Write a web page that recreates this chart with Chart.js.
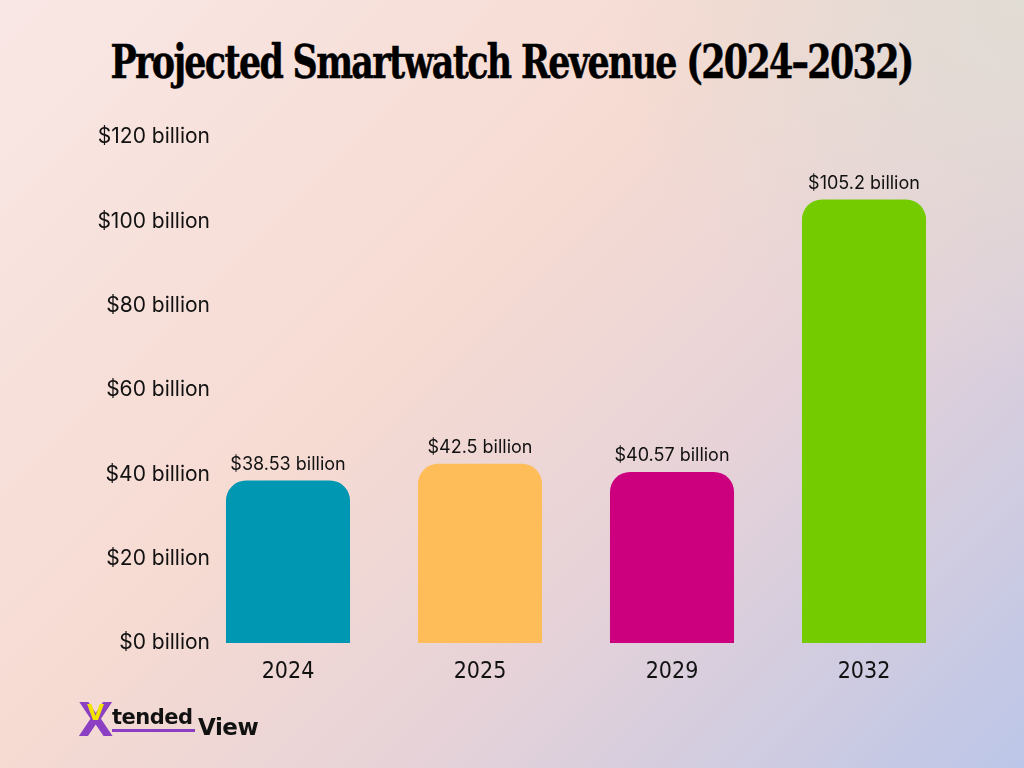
<!DOCTYPE html>
<html lang="en">
<head>
    <meta charset="UTF-8">
    <title>Projected Smartwatch Revenue (2024–2032)</title>
    <script src="https://cdn.jsdelivr.net/npm/chart.js"></script>
    <style>
        html, body { margin: 0; padding: 0; }
        body {
            width: 1024px; height: 768px; overflow: hidden; position: relative;
            background:
                radial-gradient(ellipse 420px 380px at 100% 0%, rgba(224,220,212,0.95), rgba(224,220,212,0) 100%),
                linear-gradient(135deg, #f9e7e5 0%, #f6dbd2 42%, #e6d2d8 66%, #bcc6e8 100%);
        }
        #title {
            position: absolute; left: 0; top: 34px; width: 1024px; text-align: center;
            font-family: "DejaVu Serif Condensed", "DejaVu Serif", serif; font-weight: bold;
            font-size: 47px; color: #000; letter-spacing: -2px; white-space: nowrap;
            -webkit-text-stroke: 0.5px #000;
        }
        #title span { display: inline-block; transform-origin: center; }
        canvas { position: absolute; left: 0; top: 0; }
        #logo { position: absolute; left: 78px; top: 700px; height: 44px; font-family: "DejaVu Sans", sans-serif; font-weight: bold; }
        #logo .x { position: absolute; left: 0; top: -3px; font-size: 46px; color: #8b3fc2; line-height: 46px; }
        #logo .v { position: absolute; left: 9px; top: 2px; font-size: 22px; color: #f0e400; line-height: 22px; }
        #logo .t { position: absolute; left: 34px; top: 5px; font-size: 21px; color: #111; line-height: 24px; border-bottom: 3px solid #8b3fc2; padding-right: 2px; letter-spacing: -0.5px; }
        #logo .w { position: absolute; left: 120px; top: 14px; font-size: 23px; color: #111; line-height: 26px; letter-spacing: -0.5px; }
    </style>
</head>
<body>
    <div id="title"><span>Projected Smartwatch Revenue (2024–2032)</span></div>
    <canvas id="chart" width="1024" height="768"></canvas>
    <div id="logo"><span class="x">X</span><span class="v">V</span><span class="t">tended</span><span class="w">View</span></div>

    <script>
        // data (USD billions)
        const years = ["2024", "2025", "2029", "2032"];
        const revenue = [38.53, 42.5, 40.57, 105.2];
        const barColors = ["#0097b2", "#ffbd59", "#cc007f", "#74cc00"];
        const yTicks = [0, 20, 40, 60, 80, 100, 120];

        // squeeze title to the reference width
        let t = document.querySelector("#title span");
        t.style.transform = "scaleX(" + (802 / t.offsetWidth) + ")";

        const valueLabels = {
            id: "valueLabels",
            afterDatasetsDraw(chart) {
                let ctx = chart.ctx;
                let meta = chart.getDatasetMeta(0);
                ctx.save();
                ctx.font = "18px Inter, Roboto, sans-serif";
                ctx.fillStyle = "#111";
                ctx.textAlign = "center";
                ctx.textBaseline = "bottom";
                meta.data.forEach((bar, i) => {
                    ctx.fillText("$" + revenue[i] + " billion", bar.x, bar.y - 7);
                });
                ctx.restore();
            }
        };

        // y labels sit a bit past the plot's left edge, so widen the axis box after layout
        const widenY = {
            id: "widenY",
            afterLayout(chart) { chart.scales.y.right = 216; }
        };

        new Chart(document.getElementById("chart").getContext("2d"), {
            type: "bar",
            data: {
                labels: years,
                datasets: [{
                    data: revenue,
                    backgroundColor: barColors,
                    borderRadius: { topLeft: 20, topRight: 20, bottomLeft: 0, bottomRight: 0 },
                    borderSkipped: false,
                    categoryPercentage: 1,
                    barPercentage: 0.646
                }]
            },
            options: {
                responsive: false,
                animation: false,
                layout: { padding: { top: 137, right: 64, left: 0, bottom: 0 } },
                plugins: { legend: { display: false }, tooltip: { enabled: false } },
                scales: {
                    x: {
                        grid: { display: false },
                        border: { display: false },
                        ticks: { color: "#111", padding: 7, font: { family: "'Liberation Sans Narrow', 'DejaVu Sans Condensed', sans-serif", size: 23 } },
                        afterFit: s => { s.height = 125; }
                    },
                    y: {
                        min: 0, max: 120,
                        grid: { display: false, drawTicks: false },
                        border: { display: false },
                        afterBuildTicks: s => { s.ticks = yTicks.map(v => ({ value: v })); },
                        ticks: {
                            color: "#111", padding: 6,
                            font: { family: "Inter, Roboto, sans-serif", size: 21 },
                            callback: v => "$" + v + " billion"
                        },
                        afterFit: s => { s.width = 192; }
                    }
                }
            },
            plugins: [valueLabels, widenY]
        });
    </script>
</body>
</html>
